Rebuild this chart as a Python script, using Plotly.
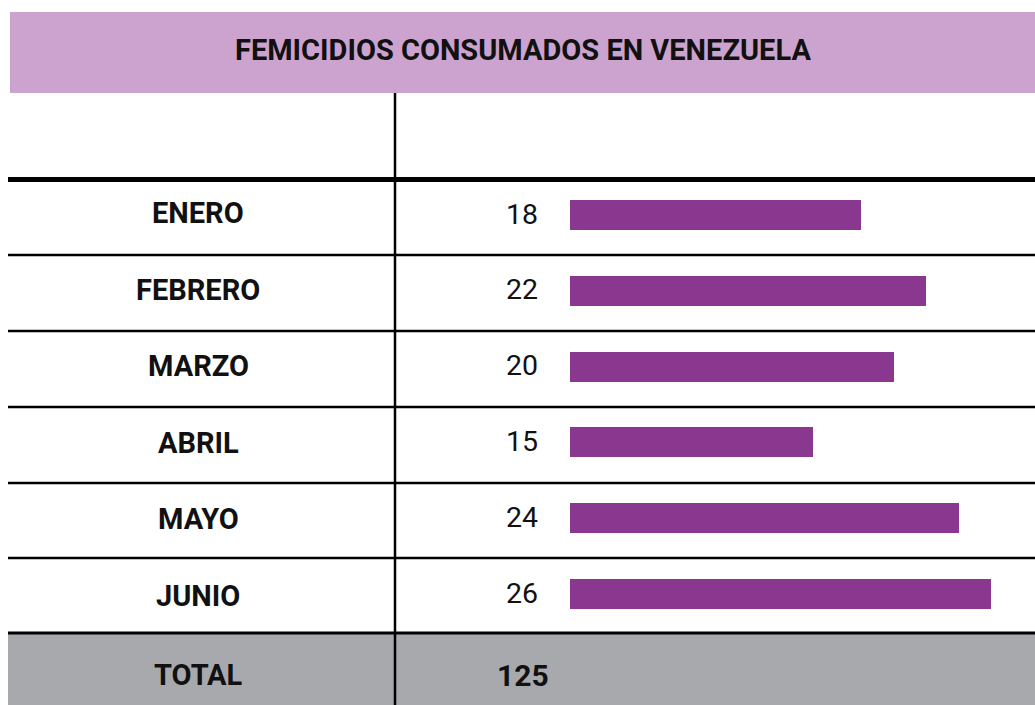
import plotly.graph_objects as go

title = "FEMICIDIOS CONSUMADOS EN VENEZUELA"
months = ["ENERO", "FEBRERO", "MARZO", "ABRIL", "MAYO", "JUNIO"]
values = [18, 22, 20, 15, 24, 26]
total_label = "TOTAL"
total_value = 125

W, H = 1035, 705
BAR_COLOR = "#8A3790"
BAND_COLOR = "#CBA3CE"
GRAY = "#A8A9AD"

def px(x):
    return x / W

def py(y):
    return 1 - y / H

# axis mapping: value 0 at pixel 570, value 26 at pixel 991
s = (991 - 570) / 26.0
xr = [-570 / s, (W - 570) / s]
# row i centre at pixel 215 + 75.8*i
rs = 75.8
yr = [(H - 215) / rs, -215 / rs]

idx = list(range(len(months)))

fig = go.Figure()
fig.add_trace(go.Bar(
    x=values, y=idx, orientation="h", base=0,
    width=30 / rs, marker=dict(color=BAR_COLOR, line=dict(width=0)),
    hoverinfo="skip", showlegend=False,
))

shapes = []
shapes.append(dict(type="rect", xref="paper", yref="paper", x0=px(10), x1=px(W), y0=py(93), y1=py(12),
                   fillcolor=BAND_COLOR, line=dict(width=0), layer="below"))
shapes.append(dict(type="rect", xref="paper", yref="paper", x0=px(8), x1=px(W), y0=py(H), y1=py(634),
                   fillcolor=GRAY, line=dict(width=0), layer="below"))
shapes.append(dict(type="line", xref="paper", yref="paper", x0=px(8), x1=px(W), y0=py(179.5), y1=py(179.5),
                   line=dict(color="black", width=5)))
for yy in [255, 331, 407, 483, 558]:
    shapes.append(dict(type="line", xref="paper", yref="paper", x0=px(8), x1=px(W), y0=py(yy), y1=py(yy),
                       line=dict(color="black", width=2.5)))
shapes.append(dict(type="line", xref="paper", yref="paper", x0=px(8), x1=px(W), y0=py(633), y1=py(633),
                   line=dict(color="black", width=3)))
shapes.append(dict(type="line", xref="paper", yref="paper", x0=px(395), x1=px(395), y0=py(93), y1=py(H),
                   line=dict(color="black", width=2.5)))

TXT = "#111111"
annotations = []
annotations.append(dict(text=f"<b>{title}</b>", xref="paper", yref="paper", x=px(523), y=py(49.5),
                        showarrow=False, xanchor="center", yanchor="middle",
                        font=dict(family="Roboto", size=29, color=TXT)))
for i, (m, v) in enumerate(zip(months, values)):
    label_px = 213 + 76.5 * i
    num_px = 214 + 75.8 * i
    annotations.append(dict(text=f"<b>{m}</b>", xref="paper", yref="paper", x=px(198), y=py(label_px),
                            showarrow=False, xanchor="center", yanchor="middle",
                            font=dict(family="Roboto", size=29, color=TXT)))
    annotations.append(dict(text=str(v), xref="paper", yref="paper", x=px(522), y=py(num_px),
                            showarrow=False, xanchor="center", yanchor="middle",
                            font=dict(family="Roboto", size=28.5, color=TXT)))
annotations.append(dict(text=f"<b>{total_label}</b>", xref="paper", yref="paper", x=px(198), y=py(675),
                        showarrow=False, xanchor="center", yanchor="middle",
                        font=dict(family="Roboto", size=29, color=TXT)))
annotations.append(dict(text=f"<b>{total_value}</b>", xref="paper", yref="paper", x=px(522.5), y=py(675),
                        showarrow=False, xanchor="center", yanchor="middle",
                        font=dict(family="Roboto", size=30, color=TXT)))

fig.update_layout(
    width=W, height=H,
    margin=dict(l=0, r=0, t=0, b=0),
    paper_bgcolor="white", plot_bgcolor="rgba(0,0,0,0)",
    xaxis=dict(range=xr, visible=False, fixedrange=True),
    yaxis=dict(range=yr, visible=False, fixedrange=True),
    shapes=shapes, annotations=annotations,
    bargap=0,
)

fig.write_html("out.html", config={"displayModeBar": False})
